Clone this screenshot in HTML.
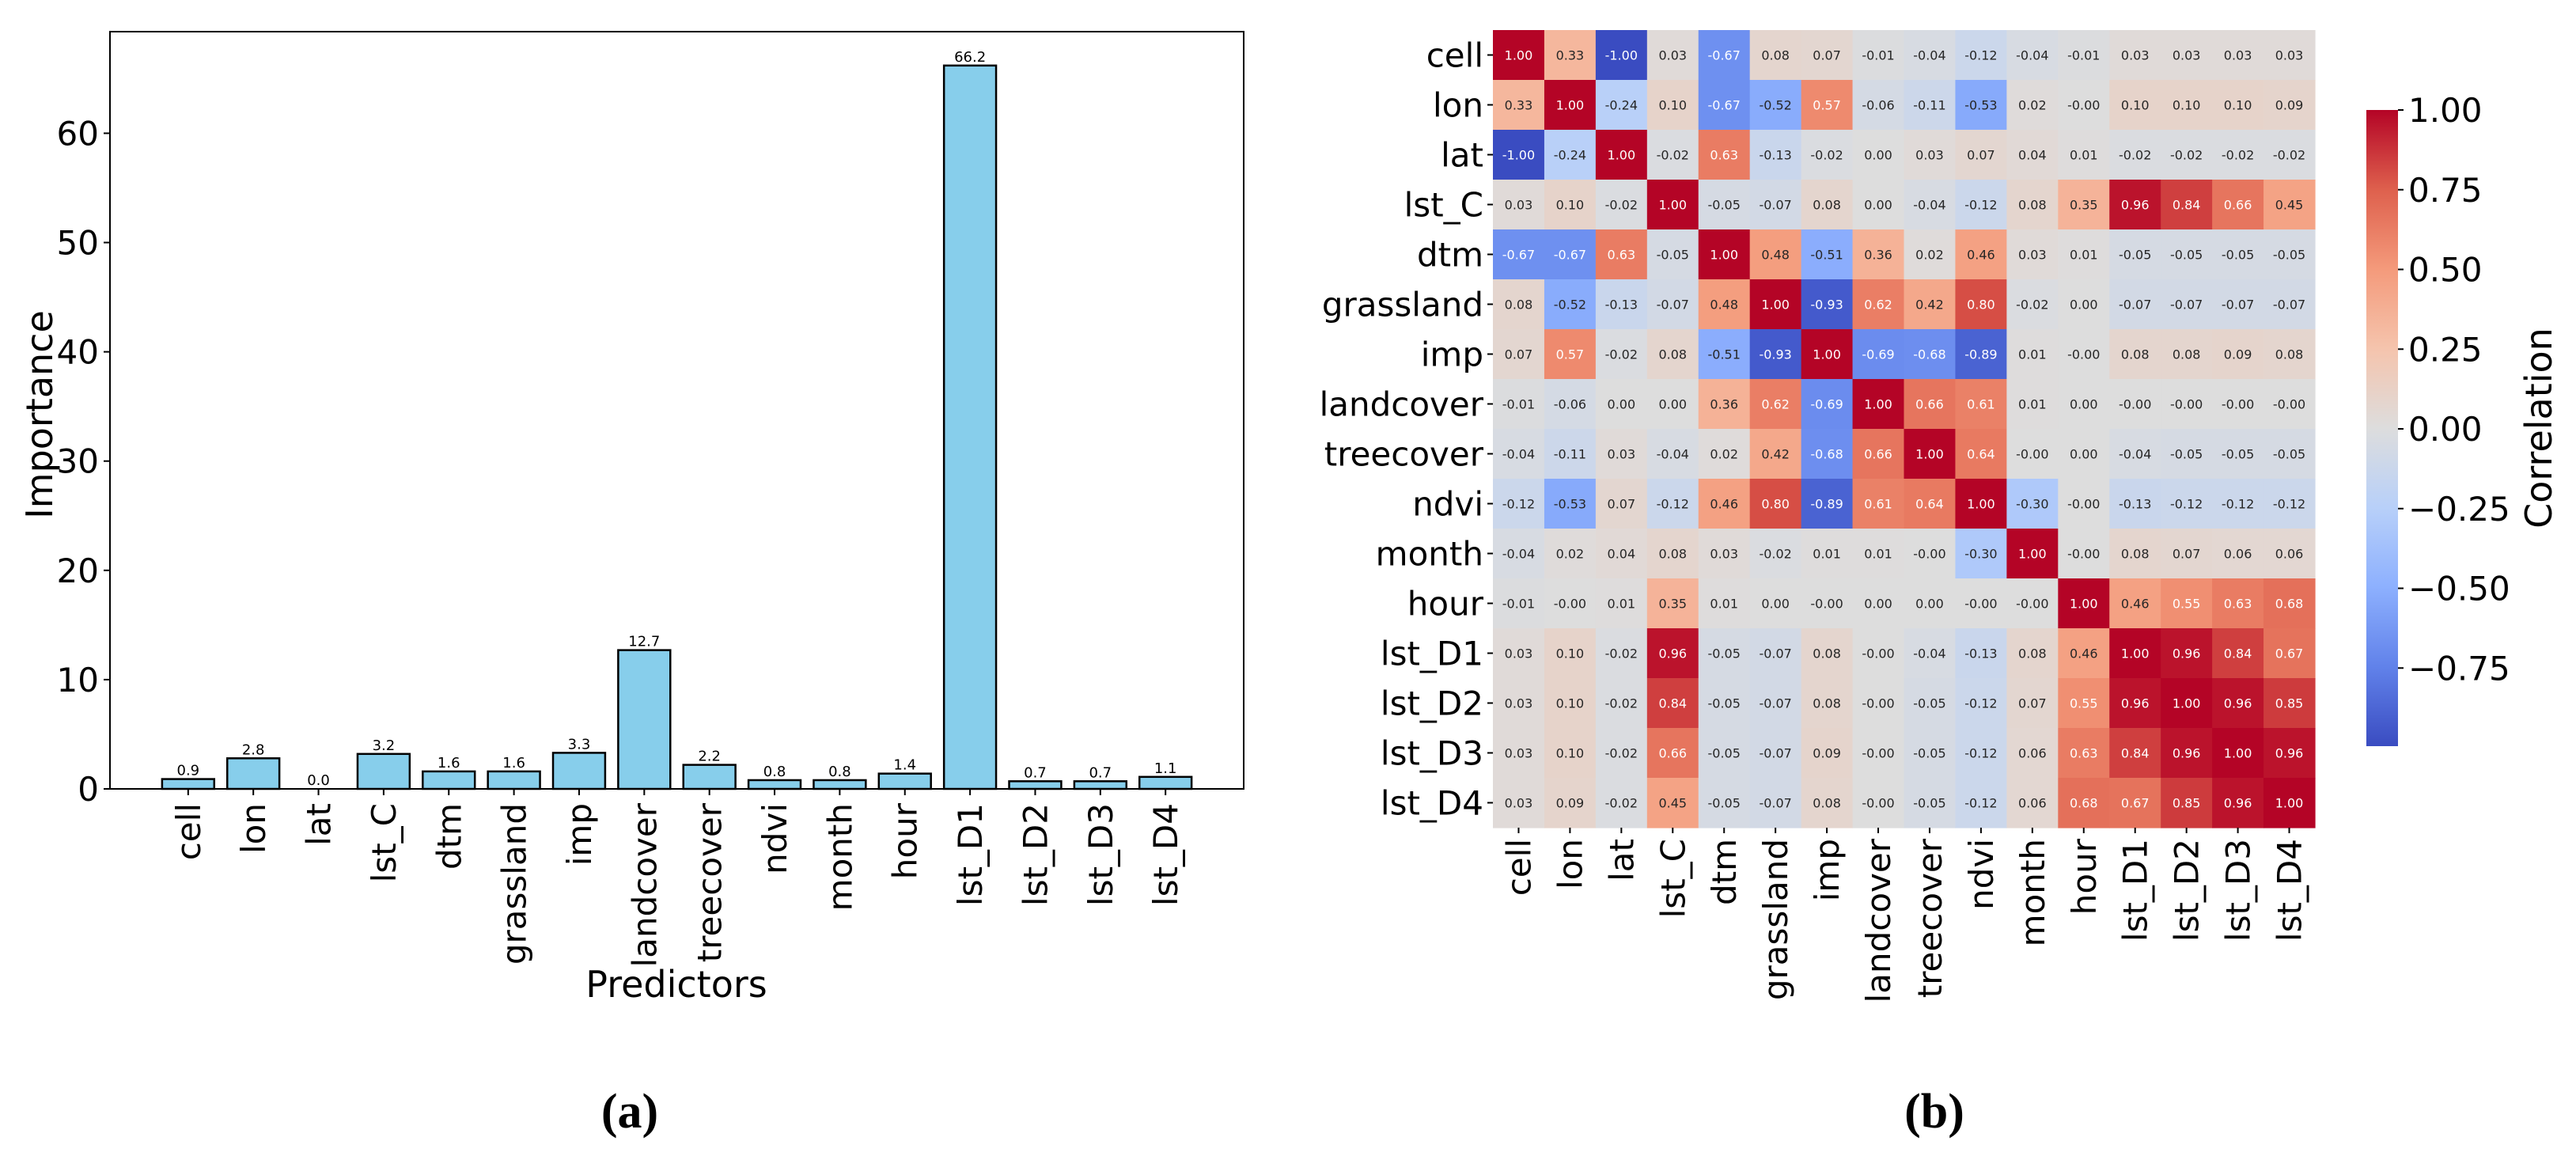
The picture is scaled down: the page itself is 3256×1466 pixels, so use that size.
<!DOCTYPE html>
<html><head><meta charset="utf-8"><style>
html,body{margin:0;padding:0;background:#fff;}
svg{display:block;font-family:"DejaVu Sans","Liberation Sans",sans-serif;}
</style></head><body>
<svg id="fig" width="3256" height="1466" viewBox="0 0 3256 1466" xmlns="http://www.w3.org/2000/svg">
<rect width="3256" height="1466" fill="#fff"/>
<g id="barChart"></g>
<g id="heat"></g>
<text x="796" y="1425" text-anchor="middle" font-family="Liberation Serif, serif" font-weight="bold" font-size="62">(a)</text>
<text x="2445" y="1425" text-anchor="middle" font-family="Liberation Serif, serif" font-weight="bold" font-size="62">(b)</text>
</svg>
<script>
const predictors = ["cell","lon","lat","lst_C","dtm","grassland","imp","landcover","treecover","ndvi","month","hour","lst_D1","lst_D2","lst_D3","lst_D4"];
const importance = [0.9,2.8,0.0,3.2,1.6,1.6,3.3,12.7,2.2,0.8,0.8,1.4,66.2,0.7,0.7,1.1];
const yTicks = [0,10,20,30,40,50,60];
const corrVars = ["cell","lon","lat","lst_C","dtm","grassland","imp","landcover","treecover","ndvi","month","hour","lst_D1","lst_D2","lst_D3","lst_D4"];
const corr = [
[1.00,0.33,-1.00,0.03,-0.67,0.08,0.07,-0.01,-0.04,-0.12,-0.04,-0.01,0.03,0.03,0.03,0.03],
[0.33,1.00,-0.24,0.10,-0.67,-0.52,0.57,-0.06,-0.11,-0.53,0.02,-0.00,0.10,0.10,0.10,0.09],
[-1.00,-0.24,1.00,-0.02,0.63,-0.13,-0.02,0.00,0.03,0.07,0.04,0.01,-0.02,-0.02,-0.02,-0.02],
[0.03,0.10,-0.02,1.00,-0.05,-0.07,0.08,0.00,-0.04,-0.12,0.08,0.35,0.96,0.84,0.66,0.45],
[-0.67,-0.67,0.63,-0.05,1.00,0.48,-0.51,0.36,0.02,0.46,0.03,0.01,-0.05,-0.05,-0.05,-0.05],
[0.08,-0.52,-0.13,-0.07,0.48,1.00,-0.93,0.62,0.42,0.80,-0.02,0.00,-0.07,-0.07,-0.07,-0.07],
[0.07,0.57,-0.02,0.08,-0.51,-0.93,1.00,-0.69,-0.68,-0.89,0.01,-0.00,0.08,0.08,0.09,0.08],
[-0.01,-0.06,0.00,0.00,0.36,0.62,-0.69,1.00,0.66,0.61,0.01,0.00,-0.00,-0.00,-0.00,-0.00],
[-0.04,-0.11,0.03,-0.04,0.02,0.42,-0.68,0.66,1.00,0.64,-0.00,0.00,-0.04,-0.05,-0.05,-0.05],
[-0.12,-0.53,0.07,-0.12,0.46,0.80,-0.89,0.61,0.64,1.00,-0.30,-0.00,-0.13,-0.12,-0.12,-0.12],
[-0.04,0.02,0.04,0.08,0.03,-0.02,0.01,0.01,-0.00,-0.30,1.00,-0.00,0.08,0.07,0.06,0.06],
[-0.01,-0.00,0.01,0.35,0.01,0.00,-0.00,0.00,0.00,-0.00,-0.00,1.00,0.46,0.55,0.63,0.68],
[0.03,0.10,-0.02,0.96,-0.05,-0.07,0.08,-0.00,-0.04,-0.13,0.08,0.46,1.00,0.96,0.84,0.67],
[0.03,0.10,-0.02,0.84,-0.05,-0.07,0.08,-0.00,-0.05,-0.12,0.07,0.55,0.96,1.00,0.96,0.85],
[0.03,0.10,-0.02,0.66,-0.05,-0.07,0.09,-0.00,-0.05,-0.12,0.06,0.63,0.84,0.96,1.00,0.96],
[0.03,0.09,-0.02,0.45,-0.05,-0.07,0.08,-0.00,-0.05,-0.12,0.06,0.68,0.67,0.85,0.96,1.00]
];
const cbTicks = [1.00,0.75,0.50,0.25,0.00,-0.25,-0.50,-0.75];

const NS="http://www.w3.org/2000/svg";
function mk(parent,tag,attrs,text){const e=document.createElementNS(NS,tag);for(const k in attrs)e.setAttribute(k,attrs[k]);if(text!==undefined)e.textContent=text;parent.appendChild(e);return e;}

// ---------- Bar chart ----------
const bc=document.getElementById('barChart');
const AX={l:139,r:1572,t:40,b:997};
const xMin=-1.2,xMax=16.2,yMin=0,yMax=69.3;
const xs=i=>AX.l+(i-xMin)/(xMax-xMin)*(AX.r-AX.l);
const ys=v=>AX.b-(v-yMin)/(yMax-yMin)*(AX.b-AX.t);
const bw=0.8*(AX.r-AX.l)/(xMax-xMin);
predictors.forEach((p,i)=>{
  const x=xs(i),y=ys(importance[i]);
  const r=mk(bc,'rect',{x:x-bw/2,y:y,width:bw,height:Math.max(0,AX.b-y),fill:'#87ceeb',stroke:'#000','stroke-width':2.5});
  
  
  const t=mk(bc,'text',{x:x,y:y-5,'text-anchor':'middle','font-size':18},importance[i].toFixed(1));
  
  
  mk(bc,'line',{x1:x,x2:x,y1:AX.b,y2:AX.b+8,stroke:'#000','stroke-width':2});
  const lab=mk(bc,'text',{transform:`translate(${x+15},${AX.b+18}) rotate(-90)`,'text-anchor':'end','font-size':42},p);
  
  
});
yTicks.forEach(v=>{
  const y=ys(v);
  mk(bc,'line',{x1:AX.l-8,x2:AX.l,y1:y,y2:y,stroke:'#000','stroke-width':2});
  const t=mk(bc,'text',{x:AX.l-14,y:y+15,'text-anchor':'end','font-size':42},String(v));
  
  
});
const frame=mk(bc,'rect',{x:AX.l,y:AX.t,width:AX.r-AX.l,height:AX.b-AX.t,fill:'none',stroke:'#000','stroke-width':2});


const xt=mk(bc,'text',{x:855,y:1260,'text-anchor':'middle','font-size':46},'Predictors');


const yt=mk(bc,'text',{transform:'translate(66,524) rotate(-90)','text-anchor':'middle','font-size':46},'Importance');



// ---------- Heatmap ----------
const hm=document.getElementById('heat');
const HX={l:1887,r:2926,t:38,b:1046};
const n=corrVars.length;
const cw=(HX.r-HX.l)/n, ch=(HX.b-HX.t)/n;
const vmin=-0.995,vmax=1.0;
const cmap=[[58,76,193],[97,130,234],[141,176,254],[184,208,249],[221,221,221],[245,196,173],[244,154,123],[222,96,77],[180,4,38]];
function color(v){let t=(v-vmin)/(vmax-vmin);t=Math.max(0,Math.min(1,t));const s=t*8;const i=Math.min(7,Math.floor(s));const f=s-i;const a=cmap[i],b=cmap[i+1];return [0,1,2].map(k=>Math.round(a[k]+(b[k]-a[k])*f));}
function lum(c){const l=c.map(x=>{x/=255;return x<=0.03928?x/12.92:Math.pow((x+0.055)/1.055,2.4)});return 0.2126*l[0]+0.7152*l[1]+0.0722*l[2];}
function fmt(v){let s=Math.abs(v).toFixed(2);return (v<0||Object.is(v,-0))?'-'+s:s;}
for(let r=0;r<n;r++){for(let c=0;c<n;c++){
  const v=corr[r][c];const col=color(v);
  const x=HX.l+c*cw,y=HX.t+r*ch;
  const rc=mk(hm,'rect',{x:x,y:y,width:cw+0.6,height:ch+0.6,fill:`rgb(${col})`});
  
  
  mk(hm,'text',{x:x+cw/2,y:y+ch/2+6,'text-anchor':'middle','font-size':16,fill:lum(col)>0.408?'#262626':'#fff'},fmt(v));
}}
corrVars.forEach((name,i)=>{
  const y=HX.t+(i+0.5)*ch;
  mk(hm,'line',{x1:HX.l-7,x2:HX.l,y1:y,y2:y,stroke:'#000','stroke-width':2});
  const t=mk(hm,'text',{x:HX.l-12,y:y+15,'text-anchor':'end','font-size':42},name);
  
  
  const x=HX.l+(i+0.5)*cw;
  mk(hm,'line',{x1:x,x2:x,y1:HX.b,y2:HX.b+7,stroke:'#000','stroke-width':2});
  const t2=mk(hm,'text',{transform:`translate(${x+15},${HX.b+14}) rotate(-90)`,'text-anchor':'end','font-size':42},name);
  
  
});

// ---------- Colorbar ----------
const CB={l:2991,r:3031,t:139,b:943};
const cbY=v=>CB.t+(vmax-v)/(vmax-vmin)*(CB.b-CB.t);
const defs=mk(hm,'defs',{});
const grad=mk(defs,'linearGradient',{id:'cbg',x1:0,y1:1,x2:0,y2:0});
cmap.forEach((c,i)=>mk(grad,'stop',{offset:(i/8),'stop-color':`rgb(${c})`}));
const cb=mk(hm,'rect',{x:CB.l,y:CB.t,width:CB.r-CB.l,height:CB.b-CB.t,fill:'url(#cbg)'});


cbTicks.forEach(v=>{
  const y=cbY(v);
  mk(hm,'line',{x1:CB.r,x2:CB.r+7,y1:y,y2:y,stroke:'#000','stroke-width':2});
  const t=mk(hm,'text',{x:CB.r+13,y:y+15,'font-size':42},(v<0?'\u2212':'')+Math.abs(v).toFixed(2));
  
  
});
const cl=mk(hm,'text',{transform:`translate(${3225},${(CB.t+CB.b)/2}) rotate(-90)`,'text-anchor':'middle','font-size':46},'Correlation');


</script>
</body></html>
